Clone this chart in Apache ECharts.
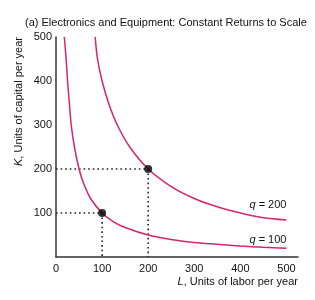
<!DOCTYPE html>
<html>
<head>
<meta charset="utf-8">
<script src="https://cdn.jsdelivr.net/npm/echarts@6/dist/echarts.min.js"></script>
<style>
  html, body { margin: 0; padding: 0; background: #fff; }
  #chart { width: 315px; height: 300px; }
</style>
</head>
<body>
<div id="chart"></div>
<script>
// isoquant q = 100 (L, K)
var q100 = [
  [18, 500], [22, 450], [25, 400], [29, 350], [33, 300], [40, 250], [50, 200],
  [60, 167], [75, 133], [100, 100], [125, 80], [150, 67], [200, 50], [250, 40],
  [300, 33], [350, 29], [400, 25], [450, 22], [500, 20],
];
// isoquant q = 200
var q200 = [
  [85, 500], [90, 450], [100, 400], [114, 350], [133, 300], [160, 250], [200, 200],
  [250, 160], [300, 133], [350, 114], [400, 100], [450, 89], [500, 84],
];
// highlighted points and the dotted guides to them
var points = [[100, 100], [200, 200]];
var guide100 = [[0, 100], [100, 100], [100, 0]];
var guide200 = [[0, 200], [200, 200], [200, 0]];
var xTicks = [0, 100, 200, 300, 400, 500];
var yTicks = [100, 200, 300, 400, 500];

var font = "Liberation Sans, Arial, sans-serif";
var pink = "#d6246e";

var chart = echarts.init(document.getElementById("chart"));

function curveLabel(text, dy) {
  return {
    show: true,
    formatter: "{i|q} = " + text,
    align: "right",
    verticalAlign: "bottom",
    offset: [0, dy],
    distance: 0,
    color: "#111",
    fontSize: 11,
    fontFamily: font,
    rich: { i: { fontStyle: "italic", fontSize: 11, fontFamily: font, color: "#111" } },
  };
}

var guideStyle = { color: "#222", width: 1.6, type: [1.6, 3] };

var option = {
  animation: false,
  title: {
    text: "(a) Electronics and Equipment: Constant Returns to Scale",
    left: 20,
    top: 12,
    textStyle: { fontSize: 11, fontWeight: "normal", color: "#111", fontFamily: font },
  },
  grid: { left: 56, top: 37, right: 17, bottom: 43 },
  xAxis: {
    type: "value",
    min: 0,
    max: 525,
    interval: 100,
    name: "{i|L}, Units of labor per year",
    nameLocation: "end",
    nameGap: 0,
    nameTextStyle: {
      align: "right",
      verticalAlign: "top",
      padding: [19, 0, 0, 0],
      fontSize: 11,
      color: "#111",
      fontFamily: font,
      rich: { i: { fontStyle: "italic", fontSize: 11, color: "#111", fontFamily: font } },
    },
    axisLine: { lineStyle: { color: "#333", width: 1.5 } },
    axisTick: { show: false },
    splitLine: { show: false },
    axisLabel: {
      color: "#111",
      fontSize: 11,
      fontFamily: font,
      margin: 6,
      formatter: function (v) { return xTicks.indexOf(v) >= 0 ? String(v) : ""; },
    },
  },
  yAxis: {
    type: "value",
    min: 0,
    max: 500,
    interval: 100,
    name: "{i|K}, Units of capital per year",
    nameLocation: "end",
    nameRotate: 90,
    nameGap: 0,
    nameTextStyle: {
      align: "right",
      verticalAlign: "bottom",
      padding: [0, 0, 32, 0],
      fontSize: 11,
      color: "#111",
      fontFamily: font,
      rich: { i: { fontStyle: "italic", fontSize: 11, color: "#111", fontFamily: font } },
    },
    axisLine: { show: true, lineStyle: { color: "#333", width: 1.5 } },
    axisTick: { show: false },
    splitLine: { show: false },
    axisLabel: {
      color: "#111",
      fontSize: 11,
      fontFamily: font,
      margin: 4,
      formatter: function (v) { return yTicks.indexOf(v) >= 0 ? String(v) : ""; },
    },
  },
  series: [
    {
      type: "line",
      data: guide100,
      symbol: "none",
      lineStyle: guideStyle,
      z: 1,
    },
    {
      type: "line",
      data: guide200,
      symbol: "none",
      lineStyle: guideStyle,
      z: 1,
    },
    {
      type: "line",
      data: q100,
      smooth: 0.3,
      symbol: "none",
      lineStyle: { color: pink, width: 1.5 },
      endLabel: curveLabel("100", -3),
      z: 2,
    },
    {
      type: "line",
      data: q200,
      smooth: 0.3,
      symbol: "none",
      lineStyle: { color: pink, width: 1.5 },
      endLabel: curveLabel("200", -10),
      z: 2,
    },
    {
      type: "scatter",
      data: points,
      symbolSize: 8,
      itemStyle: { color: "#000" },
      z: 3,
    },
  ],
};

chart.setOption(option);
</script>
</body>
</html>
